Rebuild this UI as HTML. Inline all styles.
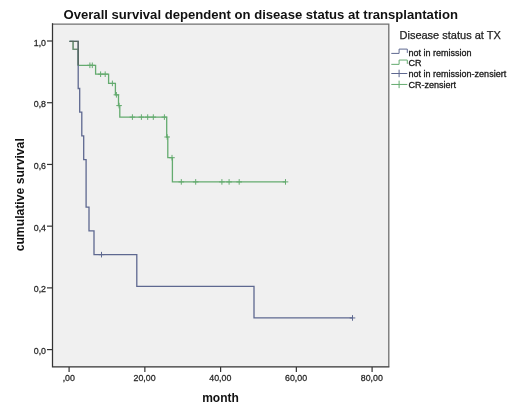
<!DOCTYPE html>
<html><head><meta charset="utf-8"><title>Overall survival</title>
<style>
html,body{margin:0;padding:0;background:#fff;}
body{width:520px;height:417px;overflow:hidden;}
svg{display:block;}
text{font-family:"Liberation Sans",Arial,sans-serif;fill:#222;}
.tk{font-size:9.6px;fill:#2a2a2a;stroke:#2a2a2a;stroke-width:0.3px;}
.ttl{font-size:13px;font-weight:bold;fill:#111;}
.lg1{font-size:11px;fill:#222;stroke:#222;stroke-width:0.25px;}
.lg{font-size:9px;fill:#1a1a1a;stroke:#1a1a1a;stroke-width:0.3px;}
</style></head>
<body>
<svg width="520" height="417" viewBox="0 0 520 417">
<rect x="52" y="24" width="337" height="343" fill="#f0f0f0"/>
<path d="M52,24.15 H388.8 V366.5" stroke="#707070" stroke-width="1.3" fill="none"/>
<path d="M52.5,23.3 V366.9 H389.4" stroke="#333" stroke-width="1.25" fill="none"/>
<path d="M47,41.0 H52" stroke="#333" stroke-width="1.2"/>
<text transform="translate(46,45.50) scale(0.92,1)" text-anchor="end" class="tk">1,0</text>
<path d="M47,102.72 H52" stroke="#333" stroke-width="1.2"/>
<text transform="translate(46,107.22) scale(0.92,1)" text-anchor="end" class="tk">0,8</text>
<path d="M47,164.44000000000003 H52" stroke="#333" stroke-width="1.2"/>
<text transform="translate(46,168.94) scale(0.92,1)" text-anchor="end" class="tk">0,6</text>
<path d="M47,226.16000000000003 H52" stroke="#333" stroke-width="1.2"/>
<text transform="translate(46,230.66) scale(0.92,1)" text-anchor="end" class="tk">0,4</text>
<path d="M47,287.88 H52" stroke="#333" stroke-width="1.2"/>
<text transform="translate(46,292.38) scale(0.92,1)" text-anchor="end" class="tk">0,2</text>
<path d="M47,349.6 H52" stroke="#333" stroke-width="1.2"/>
<text transform="translate(46,354.10) scale(0.92,1)" text-anchor="end" class="tk">0,0</text>
<path d="M69.10,367 V372" stroke="#333" stroke-width="1.2"/>
<text transform="translate(68.80,381.4) scale(0.92,1)" text-anchor="middle" class="tk">,00</text>
<path d="M144.85,367 V372" stroke="#333" stroke-width="1.2"/>
<text transform="translate(144.55,381.4) scale(0.92,1)" text-anchor="middle" class="tk">20,00</text>
<path d="M220.60,367 V372" stroke="#333" stroke-width="1.2"/>
<text transform="translate(220.30,381.4) scale(0.92,1)" text-anchor="middle" class="tk">40,00</text>
<path d="M296.35,367 V372" stroke="#333" stroke-width="1.2"/>
<text transform="translate(296.05,381.4) scale(0.92,1)" text-anchor="middle" class="tk">60,00</text>
<path d="M372.10,367 V372" stroke="#333" stroke-width="1.2"/>
<text transform="translate(371.80,381.4) scale(0.92,1)" text-anchor="middle" class="tk">80,00</text>
<path d="M69.5,41.4 L73.1,41.4 L73.1,49.3 L78.2,49.3 L78.2,65.3 L95.6,65.3 L95.6,74.2 L108.6,74.2 L108.6,83.4 L115.4,83.4 L115.4,94.8 L118.5,94.8 L118.5,105.6 L119.8,105.6 L119.8,117.1 L166.7,117.1 L166.7,137 L167.8,137 L167.8,157.7 L172.4,157.7 L172.4,181.9 L285.5,181.9" stroke="#64ab6f" fill="none" stroke-width="1.3"/>
<path d="M87.1,65.3 H92.7 M89.9,62.5 V68.1 M89.5,65.3 H95.1 M92.3,62.5 V68.1 M97.8,74.2 H103.4 M100.6,71.4 V77 M102.4,74.2 H108 M105.2,71.4 V77 M109.6,83.4 H115.2 M112.4,80.6 V86.2 M113.6,94.8 H119.2 M116.4,92 V97.6 M116.3,105.6 H121.9 M119.1,102.8 V108.4 M129.6,117.1 H135.2 M132.4,114.3 V119.9 M138.6,117.1 H144.2 M141.4,114.3 V119.9 M144.9,117.1 H150.5 M147.7,114.3 V119.9 M150.5,117.1 H156.1 M153.3,114.3 V119.9 M161.6,117.1 H167.2 M164.4,114.3 V119.9 M164.4,137 H170 M167.2,134.2 V139.8 M169.2,157.7 H174.8 M172,154.9 V160.5 M178.5,181.9 H184.1 M181.3,179.1 V184.7 M192.9,181.9 H198.5 M195.7,179.1 V184.7 M219.1,181.9 H224.7 M221.9,179.1 V184.7 M226.3,181.9 H231.9 M229.1,179.1 V184.7 M236.4,181.9 H242 M239.2,179.1 V184.7 M282.7,181.9 H288.3 M285.5,179.1 V184.7" stroke="#64ab6f" fill="none" stroke-width="1"/>
<path d="M69.5,41.4 L78.2,41.4 L78.2,88.4769 L79.7,88.4769 L79.7,112.215 L81.8,112.215 L81.8,135.954 L83.7,135.954 L83.7,159.692 L86.1,159.692 L86.1,207.169 L89,207.169 L89,230.908 L94,230.908 L94,254.646 L136.8,254.646 L136.8,286.297 L254,286.297 L254,317.949 L352.5,317.949" stroke="#5e6890" fill="none" stroke-width="1.3"/>
<path d="M98.7,254.646 H104.3 M101.5,251.846 V257.446 M349.7,317.949 H355.3 M352.5,315.149 V320.749" stroke="#5e6890" fill="none" stroke-width="1"/>
<path d="M73.1,41.4 V49.3 H78.2" stroke="#6f8478" fill="none" stroke-width="1.1"/>
<path d="M69.5,41.4 H78.2 V65.3" stroke="#56685e" fill="none" stroke-width="1.3"/>
<text x="63.5" y="19.45" class="ttl" style="font-size:13.1px">Overall survival dependent on disease status at transplantation</text>
<text transform="translate(24,194.8) rotate(-90)" text-anchor="middle" class="ttl" style="font-size:12.2px">cumulative survival</text>
<text x="220.5" y="402" text-anchor="middle" class="ttl" style="font-size:12px">month</text>
<text x="399.5" y="38.7" class="lg1">Disease status at TX</text>
<path d="M391.3,53.40 H399.1 V49.10 H407.3 V52.90" stroke="#5e6890" fill="none" stroke-width="1"/>
<text x="408.6" y="55.5" class="lg">not in remission</text>
<path d="M391.3,64.35 H399.1 V60.05 H407.3 V63.85" stroke="#64ab6f" fill="none" stroke-width="1"/>
<text x="408.6" y="66.45" class="lg">CR</text>
<path d="M391.3,73.50 H407.3 M399.1,69.70 V77.20" stroke="#5e6890" fill="none" stroke-width="1"/>
<text x="408.6" y="77.4" class="lg">not in remission-zensiert</text>
<path d="M391.3,84.45 H407.3 M399.1,80.65 V88.15" stroke="#64ab6f" fill="none" stroke-width="1"/>
<text x="408.6" y="88.35" class="lg">CR-zensiert</text>
</svg>
</body></html>
